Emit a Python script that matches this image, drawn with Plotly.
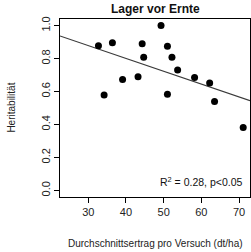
import numpy as np
import plotly.graph_objects as go

ertrag = [32.7, 34.2, 36.4, 39.1, 43.2, 44.3, 44.7, 49.3, 51.0, 51.0, 52.2, 53.7, 58.2, 62.2, 63.5, 71.1]
heritabilitaet = [0.877, 0.579, 0.896, 0.673, 0.689, 0.890, 0.808, 1.0, 0.875, 0.583, 0.808, 0.730, 0.685, 0.651, 0.540, 0.381]
x_ticks = [30, 40, 50, 60, 70]
y_ticks = [0.0, 0.2, 0.4, 0.6, 0.8, 1.0]
y_tick_labels = ["0.0", "0.2", "0.4", "0.6", "0.8", "1.0"]
x_range = [22.5, 72.9]
y_range = [-0.04, 1.04]

slope, intercept = np.polyfit(ertrag, heritabilitaet, 1)
line_x = np.array(x_range)
line_y = intercept + slope * line_x

FONT = "Liberation Sans, Arial, sans-serif"

fig = go.Figure()
fig.add_trace(go.Scatter(x=line_x, y=line_y, mode="lines",
                         line=dict(color="#3a3a3a", width=1.2), hoverinfo="skip"))
fig.add_trace(go.Scatter(x=ertrag, y=heritabilitaet, mode="markers",
                         marker=dict(color="black", size=7)))

axis_common = dict(showgrid=False, zeroline=False, showline=True, linecolor="black",
                   linewidth=1, mirror=True, ticks="outside", ticklen=5, tickcolor="black",
                   tickfont=dict(family=FONT, size=11, color="#222"))
fig.update_xaxes(range=x_range, tickvals=x_ticks, ticktext=[str(v) for v in x_ticks], **axis_common)
fig.update_yaxes(range=y_range, tickvals=y_ticks, ticktext=y_tick_labels, tickangle=-90, **axis_common)

fig.update_layout(
    width=251, height=252,
    margin=dict(l=60, r=1, t=19, b=55),
    plot_bgcolor="white", paper_bgcolor="white",
    showlegend=False,
    font=dict(family=FONT, color="#222"),
    annotations=[
        dict(text="<b>Lager vor Ernte</b>", xref="paper", yref="paper", x=0.5, y=1.0,
             yshift=1, xanchor="center", yanchor="bottom", showarrow=False,
             font=dict(size=12, family=FONT, color="#111")),
        dict(text="Durchschnittsertrag pro Versuch (dt/ha)", xref="paper", yref="paper",
             x=0.5, y=-0.264, xanchor="center", yanchor="middle", showarrow=False,
             font=dict(size=10, family=FONT, color="#222")),
        dict(text="Heritabilität", xref="paper", yref="paper", x=-0.26, y=0.5,
             xanchor="center", yanchor="middle", textangle=-90, showarrow=False,
             font=dict(size=10, family=FONT, color="#222")),
        dict(text="R<sup>2</sup> = 0.28, p&lt;0.05", xref="paper", yref="paper",
             x=0.97, y=0.04, xanchor="right", yanchor="bottom", showarrow=False,
             font=dict(size=10.5, family=FONT, color="#111")),
    ],
)

fig.write_html("out.html", config={"displayModeBar": False},
               post_script="document.body.style.margin='0';document.body.style.overflow='hidden';")
